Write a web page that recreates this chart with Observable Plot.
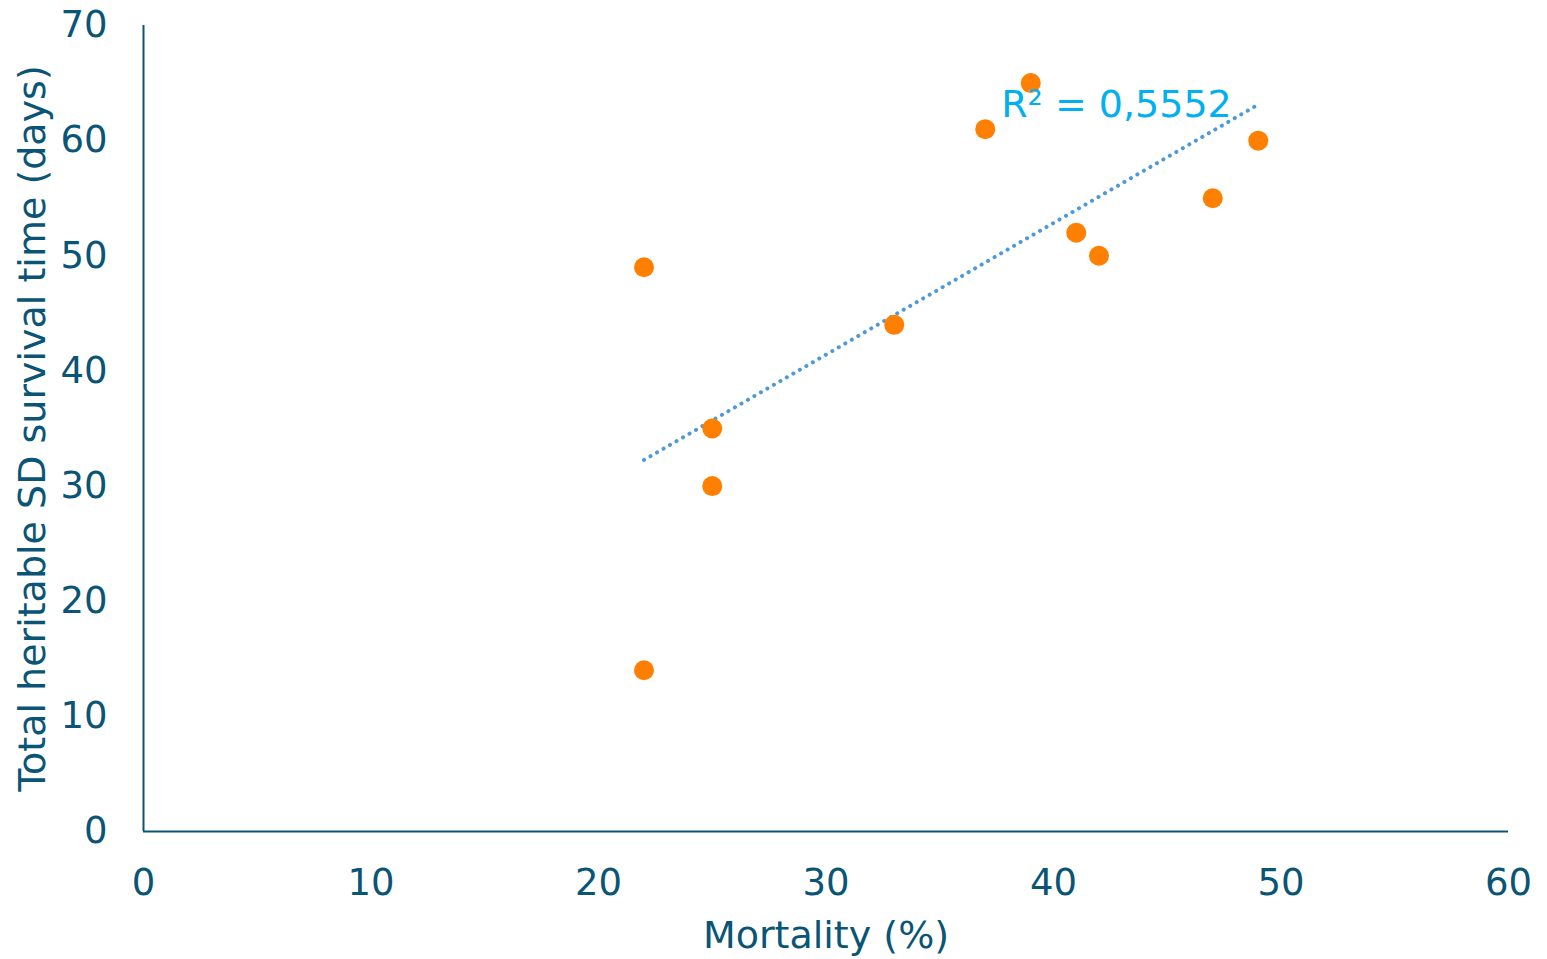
<!DOCTYPE html>
<html>
<head>
<meta charset="utf-8">
<script src="https://cdn.jsdelivr.net/npm/d3@7"></script>
<script src="https://cdn.jsdelivr.net/npm/@observablehq/plot@0.6"></script>
<style>
  html, body { margin: 0; padding: 0; background: #fff; }
</style>
</head>
<body>
<div id="chart"></div>
<script>
// Data
const mortality = [22, 22, 25, 25, 33, 37, 39, 41, 42, 47, 49];
const survivalSD = [49, 14, 35, 30, 44, 61, 65, 52, 50, 55, 60];
const xTicks = [0, 10, 20, 30, 40, 50, 60];
const yTicks = [0, 10, 20, 30, 40, 50, 60, 70];
const xLabel = "Mortality (%)";
const yLabel = "Total heritable SD survival time (days)";
const r2Label = [{x: 37.7, y: 63.1, text: "R² = 0,5552"}];

const data = mortality.map((m, i) => ({mortality: m, sd: survivalSD[i]}));

const textColor = "#0a5576";
const font = "'DejaVu Sans', Verdana, sans-serif";
const fs = 37;
const fsTitle = 38;

const chart = Plot.plot({
  width: 1547,
  height: 959,
  marginLeft: 143,
  marginRight: 39,
  marginTop: 25,
  marginBottom: 128,
  style: {fontFamily: font, fontSize: fs + "px", color: textColor, background: "#fff"},
  x: {domain: [0, 60]},
  y: {domain: [0, 70]},
  marks: [
    Plot.axisX({ticks: xTicks, tickSize: 0, tickPadding: 37, fontSize: fs, fill: textColor, label: null}),
    Plot.axisY({ticks: yTicks, tickSize: 0, tickPadding: 36, fontSize: fs, fill: textColor, label: null}),
    Plot.ruleX([0], {stroke: textColor, strokeWidth: 2}),
    Plot.ruleY([0], {stroke: textColor, strokeWidth: 2}),
    Plot.linearRegressionY(data, {
      x: "mortality", y: "sd", ci: 0,
      stroke: "#4f9ad6", strokeWidth: 4,
      strokeDasharray: "0.1,7.4", strokeLinecap: "round"
    }),
    Plot.dot(data, {x: "mortality", y: "sd", r: 10, fill: "#ff7f00", stroke: "none"}),
    Plot.text(r2Label, {x: "x", y: "y", text: "text", textAnchor: "start", fill: "#00b0f0", fontSize: fsTitle, lineAnchor: "middle"}),
    Plot.text([xLabel], {frameAnchor: "bottom", textAnchor: "middle", dy: 104, fill: textColor, fontSize: fsTitle, lineAnchor: "middle"}),
    Plot.text([yLabel], {frameAnchor: "left", textAnchor: "middle", dx: -111, rotate: -90, fill: textColor, fontSize: fsTitle, lineAnchor: "middle"})
  ]
});
document.getElementById("chart").appendChild(chart);
</script>
</body>
</html>
